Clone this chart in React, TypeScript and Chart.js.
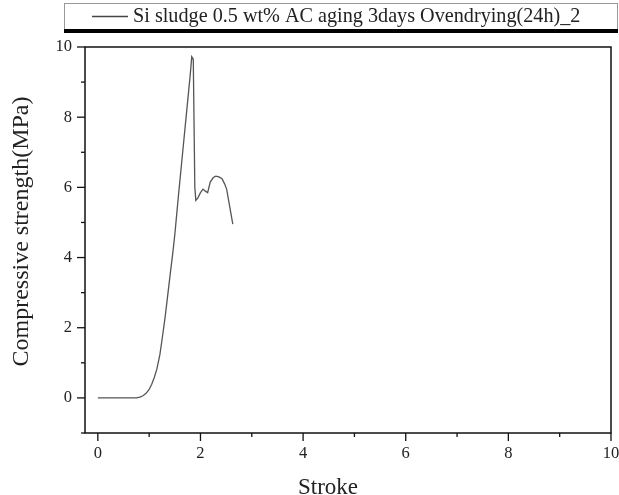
import React, { useEffect, useRef } from 'react';
import { Chart, registerables } from 'chart.js';

Chart.register(...registerables);

const seriesLabel = 'Si sludge 0.5 wt% AC aging 3days Ovendrying(24h)_2';
const xAxisTitle = 'Stroke';
const yAxisTitle = 'Compressive strength(MPa)';

const strokeValues = [
  0, 0.3, 0.6, 0.75, 0.82, 0.88, 0.94, 1.0, 1.05, 1.1, 1.15, 1.21, 1.26, 1.31, 1.36, 1.41, 1.46, 1.5,
  1.57, 1.65, 1.73, 1.8, 1.83, 1.86, 1.89, 1.91, 1.95, 2.0, 2.05, 2.09, 2.14, 2.19, 2.25, 2.3, 2.36,
  2.42, 2.47, 2.51, 2.57, 2.63,
];
const strengthValues = [
  0, 0, 0, 0, 0.02, 0.06, 0.13, 0.24, 0.39, 0.58, 0.82, 1.24, 1.75, 2.29, 2.9, 3.52, 4.12, 4.65,
  5.75, 6.95, 8.15, 9.2, 9.72, 9.65, 6.0, 5.63, 5.7, 5.85, 5.95, 5.9, 5.85, 6.15, 6.28, 6.32, 6.3,
  6.25, 6.1, 5.95, 5.45, 4.95,
];
const xTickValues = [0, 1, 2, 3, 4, 5, 6, 7, 8, 9, 10];
const yTickValues = [-1, 0, 1, 2, 3, 4, 5, 6, 7, 8, 9, 10];

const SERIF = '"Liberation Serif", "Times New Roman", serif';
const TEXT = '#222';
const LINE = '#555';

const frameAndTicks = {
  id: 'frameAndTicks',
  afterDraw(chart: any) {
    const { ctx, chartArea } = chart;
    const { left, right, top, bottom } = chartArea;
    ctx.save();
    ctx.strokeStyle = '#111';
    ctx.lineWidth = 1.5;
    ctx.strokeRect(left, top, right - left, bottom - top);
    ctx.lineWidth = 1.3;
    const xs = chart.scales.x;
    xs.ticks.forEach((t: any) => {
      const px = xs.getPixelForValue(t.value);
      const len = t.value % 2 === 0 ? 8 : 4;
      ctx.beginPath();
      ctx.moveTo(px, bottom);
      ctx.lineTo(px, bottom + len);
      ctx.stroke();
    });
    const ys = chart.scales.y;
    ys.ticks.forEach((t: any) => {
      const py = ys.getPixelForValue(t.value);
      const len = t.value % 2 === 0 ? 8 : 4;
      ctx.beginPath();
      ctx.moveTo(left - len, py);
      ctx.lineTo(left, py);
      ctx.stroke();
    });
    ctx.restore();
  },
};

const legendBox = {
  id: 'legendBox',
  afterDraw(chart: any) {
    const { ctx } = chart;
    const label = chart.data.datasets[0].label;
    ctx.save();
    ctx.fillStyle = '#fff';
    ctx.fillRect(64, 3, 553, 28);
    ctx.strokeStyle = '#999';
    ctx.lineWidth = 1;
    ctx.strokeRect(64.5, 3.5, 553, 28);
    ctx.fillStyle = '#000';
    ctx.fillRect(64, 29, 554, 4);
    ctx.strokeStyle = '#444';
    ctx.lineWidth = 1.3;
    ctx.beginPath();
    ctx.moveTo(92, 16.5);
    ctx.lineTo(128, 16.5);
    ctx.stroke();
    ctx.fillStyle = TEXT;
    ctx.font = `20.2px ${SERIF}`;
    ctx.textBaseline = 'alphabetic';
    ctx.textAlign = 'left';
    ctx.fillText(label, 133, 22);
    ctx.restore();
  },
};

const axisTitles = {
  id: 'axisTitles',
  afterDraw(chart: any) {
    const { ctx } = chart;
    ctx.save();
    ctx.fillStyle = TEXT;
    ctx.textAlign = 'center';
    ctx.textBaseline = 'alphabetic';
    ctx.font = `23px ${SERIF}`;
    ctx.fillText(xAxisTitle, 328, 494);
    ctx.translate(28, 231.5);
    ctx.rotate(-Math.PI / 2);
    ctx.font = `24px ${SERIF}`;
    ctx.fillText(yAxisTitle, 0, 0);
    ctx.restore();
  },
};

export default function App() {
  const ref = useRef<HTMLCanvasElement | null>(null);
  useEffect(() => {
    if (!ref.current) return;
    const chart = new Chart(ref.current, {
      type: 'line',
      data: {
        datasets: [
          {
            label: seriesLabel,
            data: strokeValues.map((x, i) => ({ x, y: strengthValues[i] })),
            borderColor: LINE,
            borderWidth: 1.3,
            pointRadius: 0,
            tension: 0,
            fill: false,
          },
        ],
      },
      options: {
        animation: false,
        responsive: false,
        maintainAspectRatio: false,
        layout: { padding: { top: 47, right: 8, left: 0, bottom: 0 } },
        plugins: { legend: { display: false }, tooltip: { enabled: false }, title: { display: false } },
        scales: {
          x: {
            type: 'linear',
            min: -0.25,
            max: 10,
            grid: { display: false, drawTicks: true, tickLength: 8 },
            border: { display: false },
            afterBuildTicks: (s: any) => {
              s.ticks = xTickValues.map((v) => ({ value: v }));
            },
            afterFit: (s: any) => {
              s.height = 62;
              s.paddingLeft = 0;
              s.paddingRight = 0;
            },
            ticks: {
              autoSkip: false,
              maxRotation: 0,
              padding: 3,
              color: TEXT,
              font: { family: SERIF, size: 16.5 },
              callback: (v: any) => (Number(v) % 2 === 0 ? String(v) : ''),
            },
          },
          y: {
            type: 'linear',
            min: -1,
            max: 10,
            grid: { display: false, drawTicks: true, tickLength: 8 },
            border: { display: false },
            afterBuildTicks: (s: any) => {
              s.ticks = yTickValues.map((v) => ({ value: v }));
            },
            afterFit: (s: any) => {
              s.width = 85;
              s.paddingTop = 0;
              s.paddingBottom = 0;
            },
            ticks: {
              autoSkip: false,
              padding: 5,
              color: TEXT,
              font: { family: SERIF, size: 16.5 },
              callback: (v: any) => (Number(v) >= 0 && Number(v) % 2 === 0 ? String(v) : ''),
            },
          },
        },
      },
      plugins: [frameAndTicks, legendBox, axisTitles],
    } as any);
    return () => chart.destroy();
  }, []);
  return (
    <div style={{ position: 'absolute', left: 0, top: 0, width: 619, height: 495, background: '#fff' }}>
      <canvas ref={ref} width={619} height={495} style={{ display: 'block' }} />
    </div>
  );
}
